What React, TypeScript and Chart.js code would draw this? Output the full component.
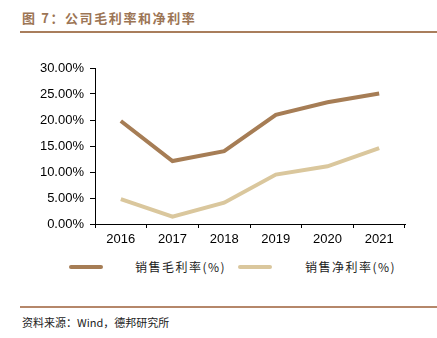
import React, { useEffect, useRef } from "react";
import { Chart, registerables } from "chart.js";

Chart.register(...registerables);

const years = ["2016", "2017", "2018", "2019", "2020", "2021"];
const grossMargin = [19.8, 12.1, 14.0, 21.0, 23.4, 25.1];
const netMargin = [4.8, 1.4, 4.1, 9.5, 11.1, 14.6];
const seriesNames = ["销售毛利率(%)", "销售净利率(%)"];
const seriesColors = ["#a67d55", "#dac79d"];

export default function App() {
  const ref = useRef<HTMLCanvasElement | null>(null);

  useEffect(() => {
    if (!ref.current) return;
    const chart = new Chart(ref.current, {
      type: "line",
      data: {
        labels: years,
        datasets: [
          {
            label: seriesNames[0],
            data: grossMargin,
            borderColor: seriesColors[0],
            borderWidth: 4,
            pointRadius: 0,
            tension: 0,
            fill: false,
          },
          {
            label: seriesNames[1],
            data: netMargin,
            borderColor: seriesColors[1],
            borderWidth: 4,
            pointRadius: 0,
            tension: 0,
            fill: false,
          },
        ],
      },
      options: {
        animation: false,
        responsive: false,
        maintainAspectRatio: false,
        layout: { padding: { top: 18, right: 32, left: 0, bottom: 0 } },
        plugins: { legend: { display: false }, tooltip: { enabled: false } },
        scales: {
          x: {
            type: "category",
            offset: true,
            grid: {
              display: true,
              offset: true,
              drawOnChartArea: false,
              drawTicks: true,
              tickLength: 4,
              color: "#000",
              lineWidth: 1,
            },
            border: { display: true, color: "#000", width: 1 },
            ticks: {
              color: "#000",
              font: { family: "Liberation Sans, Arial", size: 13 },
              padding: 4,
              maxRotation: 0,
            },
            afterFit: (s: any) => {
              s.height = 26;
            },
          },
          y: {
            min: 0,
            max: 30,
            grid: {
              display: true,
              drawOnChartArea: false,
              drawTicks: true,
              tickLength: 5,
              color: "#000",
              lineWidth: 1,
            },
            border: { display: true, color: "#000", width: 1 },
            ticks: {
              stepSize: 5,
              color: "#000",
              font: { family: "Liberation Sans, Arial", size: 13 },
              padding: 6,
              callback: (v: any) => Number(v).toFixed(2) + "%",
            },
            afterFit: (s: any) => {
              s.width = 95;
            },
          },
        },
      },
    });
    return () => chart.destroy();
  }, []);

  const legendItem = (i: number, lineLeft: number, textLeft: number) => (
    <React.Fragment key={i}>
      <div
        style={{
          position: "absolute",
          left: lineLeft,
          top: 265,
          width: 34,
          height: 4,
          borderRadius: 2,
          background: seriesColors[i],
        }}
      />
      <div
        style={{
          position: "absolute",
          left: textLeft,
          top: 259,
          fontSize: 12,
          letterSpacing: 1.5,
          color: "#222",
          fontFamily: "'Noto Sans CJK SC', 'Liberation Sans', sans-serif",
          whiteSpace: "nowrap",
          lineHeight: "16px",
        }}
      >
        {seriesNames[i]}
      </div>
    </React.Fragment>
  );

  return (
    <div
      style={{
        position: "absolute",
        left: 0,
        top: 0,
        width: 437,
        height: 338,
        background: "#fff",
        overflow: "hidden",
      }}
    >
      <div
        style={{
          position: "absolute",
          left: 22,
          top: 9,
          fontSize: 13,
          fontWeight: "bold",
          letterSpacing: 1.6,
          color: "#9c7555",
          fontFamily: "'Noto Sans CJK SC', 'Liberation Sans', sans-serif",
          whiteSpace: "nowrap",
          lineHeight: "18px",
        }}
      >
        图 7：公司毛利率和净利率
      </div>
      <div
        style={{
          position: "absolute",
          left: 20,
          top: 31,
          width: 417,
          height: 2,
          background: "#a97e5c",
        }}
      />
      <canvas
        ref={ref}
        width={437}
        height={200}
        style={{ position: "absolute", left: 0, top: 50, width: 437, height: 200 }}
      />
      {legendItem(0, 69, 135)}
      {legendItem(1, 238, 305)}
      <div
        style={{
          position: "absolute",
          left: 20,
          top: 306,
          width: 417,
          height: 1.5,
          background: "#b5876a",
        }}
      />
      <div
        style={{
          position: "absolute",
          left: 22,
          top: 314,
          fontSize: 11,
          color: "#222",
          fontFamily: "'Noto Sans CJK SC', 'Liberation Sans', sans-serif",
          whiteSpace: "nowrap",
          lineHeight: "16px",
        }}
      >
        资料来源：Wind，德邦研究所
      </div>
    </div>
  );
}
